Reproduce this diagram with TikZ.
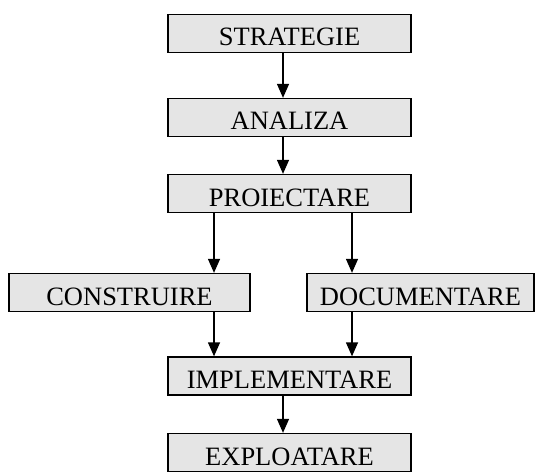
\documentclass[tikz,border=0pt]{standalone}
\usepackage{fontspec}
\setmainfont{Liberation Serif}
\usetikzlibrary{arrows.meta}
\begin{document}
\begin{tikzpicture}[x=1pt,y=-1pt,
  phase/.style={draw=black, line width=1.3pt, fill=black!10, inner sep=0pt,
    minimum height=38pt, text height=25pt, text depth=0pt,
    font=\fontsize{26.5}{30}\selectfont},
  wide/.style={phase, minimum width=243pt},
  flow/.style={line width=1.3pt, -{Triangle[length=14pt,width=12pt]}}]
\useasboundingbox (0,0) rectangle (540,473);

% main column
\node[wide] (s) at (289.5,33.5)  {STRATEGIE};
\node[wide] (a) at (289.5,117.5) {ANALIZA};
\node[wide] (p) at (289.5,193.5) {PROIECTARE};
% two parallel activities
\node[phase, minimum width=241pt] (c) at (129.5,292.5) {CONSTRUIRE};
\node[phase, minimum width=227pt] (d) at (420.5,292.5) {DOCUMENTARE};
\node[wide] (i) at (289.5,376)   {IMPLEMENTARE};
\node[wide] (e) at (289.5,452.5) {EXPLOATARE};

% vertical lanes of the connectors
\coordinate (mid) at (283,0);
\coordinate (lft) at (214,0);
\coordinate (rgt) at (352,0);

\draw[flow] (s.south -| mid) -- (a.north -| mid);
\draw[flow] (a.south -| mid) -- (p.north -| mid);
\draw[flow] (p.south -| lft) -- (c.north -| lft);
\draw[flow] (p.south -| rgt) -- (d.north -| rgt);
\draw[flow] (c.south -| lft) -- (i.north -| lft);
\draw[flow] (d.south -| rgt) -- (i.north -| rgt);
\draw[flow] (i.south -| mid) -- (e.north -| mid);
\end{tikzpicture}
\end{document}
